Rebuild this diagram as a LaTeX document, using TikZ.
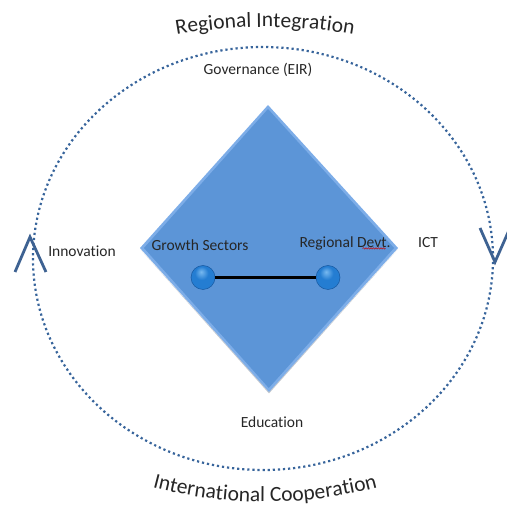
\documentclass[tikz,border=0pt]{standalone}
\usepackage{fontspec}
\setmainfont{Carlito}[Ligatures=NoCommon]
\usetikzlibrary{calc,decorations.text,decorations.pathmorphing}

\definecolor{ringblue}{RGB}{55,100,155}
\definecolor{chevblue}{RGB}{62,98,146}
\definecolor{diafill}{RGB}{92,149,215}
\definecolor{diaedge}{RGB}{125,173,232}
\definecolor{diashade}{RGB}{110,120,135}
\definecolor{balldark}{RGB}{22,88,160}
\definecolor{ballblue}{RGB}{36,125,210}
\definecolor{ballhi}{RGB}{120,185,240}

% glossy sphere for the two end points
\pgfdeclareradialshading{bluesphere}{\pgfpoint{-4bp}{12bp}}{%
  color(0bp)=(ballhi); color(14bp)=(ballblue); color(34bp)=(ballblue);
  color(48bp)=(balldark); color(60bp)=(balldark)}

\tikzset{
  ring/.style={ringblue, line width=2.2pt, dash pattern=on 2.2pt off 2.9pt},
  chevron/.style={chevblue, line width=2.8pt, line join=miter},
  label/.style={font=\fontsize{15.5}{18}\selectfont, text=black!85, inner sep=1pt},
  ballnode/.style={circle, minimum size=24pt, inner sep=0pt, draw=balldark, line width=0.5pt,
    shading=bluesphere},
  link/.style={black, line width=3pt},
  arctext/.style={decorate, decoration={text along path, text align=center,
    text={|\fontsize{21.5}{25}\selectfont\color{black!85}|#1}}}
}

\begin{document}
\begin{tikzpicture}[x=1pt,y=1pt]
\useasboundingbox (0,0) rectangle (506,511);

% dotted cycle
\draw[ring] (263,252.5) ellipse [x radius=230, y radius=211.5];

% chevrons on the cycle
\coordinate (lapex) at (30,274);
\coordinate (rapex) at (495,249);
\draw[chevron] ($(lapex)+(-15,-35)$) -- (lapex) -- ($(lapex)+(16,-35)$);
\draw[chevron] ($(rapex)+(-15,34)$) -- (rapex) -- ($(rapex)+(15,34)$);

% diamond with a light bevelled rim
\coordinate (dtop) at (268,406);
\coordinate (dleft) at (140,263);
\coordinate (dbot) at (269,119);
\coordinate (dright) at (398,263);
\fill[diashade!40] (140.5,261.5) -- (269,117.5) -- (397.5,261.5) -- (269,119.5) -- cycle;
\fill[diaedge] (dtop) -- (dright) -- (dbot) -- (dleft) -- cycle;
\fill[diafill] (268,402) -- (394,263) -- (268.8,123) -- (144,263) -- cycle;

% link between the two balls
\node[ballnode] (gs) at (203,233.5) {};
\node[ballnode] (rd) at (328,233.5) {};
\draw[link] (gs) -- (rd);

% labels
\node[label] (gov) at (258,441) {Governance (EIR)};
\node[label] (inn) at (82,260) {Innovation};
\node[label] (ict) at (428,268) {ICT};
\node[label] (edu) at (272,89) {Education};
\node[label] (gsl) at (200,266) {Growth Sectors};
\node[label] (rdl) at (345,268) {Regional Devt.};
\draw[red!80!black, line width=0.5pt, decorate,
  decoration={snake, amplitude=0.7pt, segment length=2.5pt}]
  ($(rdl.south east)+(-29,2.5)$) -- ($(rdl.south east)+(-6,2.5)$);

% curved titles
\path[arctext={Regional Integration}] (265,-16) ++(113:500) arc[start angle=113, end angle=67, radius=500];
\path[arctext={International Cooperation}] (265,449) ++(236:440) arc[start angle=236, end angle=304, radius=440];
\end{tikzpicture}
\end{document}
